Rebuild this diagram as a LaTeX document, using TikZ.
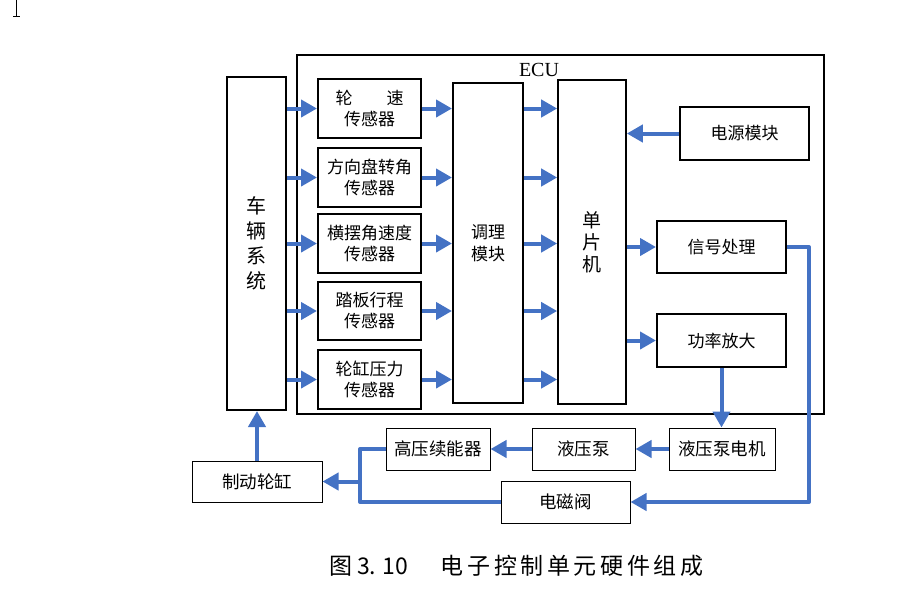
\documentclass[tikz,border=0pt]{standalone}
\usepackage{fontspec}
\setmainfont{Liberation Serif}
\newfontfamily\cjk{Noto Sans CJK SC}
\usetikzlibrary{arrows.meta}
\definecolor{ablue}{RGB}{68,114,196}
\newcommand{\lsp}{\hspace{3.6pt}}
\begin{document}
\begin{tikzpicture}[x=1pt,y=-1pt,
 tbox/.style={draw, line width=2pt, inner sep=0pt, align=center, font=\cjk\fontsize{17}{21}\selectfont},
 thbox/.style={draw, line width=1pt, inner sep=0pt, align=center, font=\cjk\fontsize{17.5}{21}\selectfont},
 arr/.style={draw=ablue, line width=4pt, -{Triangle[length=16pt,width=17pt]}},
 pipe/.style={draw=ablue, line width=4pt, line join=round},
]
\useasboundingbox (0,0) rectangle (900,600);
% cursor mark
\draw[line width=1pt] (16,0) -- (16,16);
\draw[line width=1pt] (13,16) -- (20,16);

% ECU frame
\node[draw, line width=1.2pt, minimum width=527pt, minimum height=359pt, inner sep=0pt] (ecu) at (560.5,234.5) {};
\node[font=\fontsize{20}{24}\selectfont, inner sep=0pt] (ecul) at (539,69.5) {ECU};

% vehicle system
\node[tbox, minimum width=59pt, minimum height=333pt, font=\cjk\fontsize{20}{25}\selectfont] (veh) at (256.5,243.5) {车\\辆\\系\\统};

% sensors
\node[tbox, minimum width=103pt, minimum height=59pt] (s1) at (369.5,108.5) {\makebox[4em]{轮\hfill 速}\\传感器};
\node[tbox, minimum width=103pt, minimum height=59pt] (s2) at (369.5,177.5) {方向盘转角\\传感器};
\node[tbox, minimum width=103pt, minimum height=59pt] (s3) at (369.5,243.5) {横摆角速度\\传感器};
\node[tbox, minimum width=103pt, minimum height=58pt] (s4) at (369.5,311) {踏板行程\\传感器};
\node[tbox, minimum width=103pt, minimum height=59pt] (s5) at (369.5,379.5) {轮缸压力\\传感器};

% conditioning, mcu
\node[tbox, minimum width=70pt, minimum height=320pt, font=\cjk\fontsize{17}{22}\selectfont] (cond) at (488,243) {调理\\模块};
\node[tbox, line width=1.6pt, minimum width=68pt, minimum height=324pt, font=\cjk\fontsize{19}{22}\selectfont] (mcu) at (592,242) {单\\片\\机};

% right modules
\node[tbox, minimum width=129pt, minimum height=53pt] (pwr) at (744.5,133.5) {电源模块};
\node[tbox, minimum width=129pt, minimum height=52pt] (sig) at (721.5,247) {信号处理};
\node[tbox, minimum width=129pt, minimum height=53pt] (amp) at (721.5,340.5) {功率放大};

% bottom row
\node[thbox, minimum width=106pt, minimum height=42pt] (motor) at (722,449) {液压泵电机};
\node[thbox, minimum width=103pt, minimum height=42pt] (pump) at (583.5,449) {液压泵};
\node[thbox, minimum width=104pt, minimum height=42pt] (acc) at (438,449) {高压续能器};
\node[thbox, minimum width=129pt, minimum height=42pt] (valve) at (565.5,502) {电磁阀};
\node[thbox, minimum width=130pt, minimum height=41pt] (brake) at (257,481.5) {制动轮缸};

% arrows vehicle -> sensors -> cond -> mcu
\foreach \s in {s1,s2,s3,s4,s5}{
  \draw[arr] (veh.east |- \s.west) -- (\s.west);
  \draw[arr] (\s.east) -- (cond.west |- \s.east);
  \draw[arr] (cond.east |- \s.east) -- (mcu.west |- \s.east);
}
\draw[arr] (pwr.west) -- (mcu.east |- pwr.west);
\draw[arr] (mcu.east |- sig.west) -- (sig.west);
\draw[arr] (mcu.east |- amp.west) -- (amp.west);

% lower connections
\draw[arr] (amp.south) -- (amp.south |- motor.north);
\draw[arr] (motor.west) -- (pump.east);
\draw[arr] (pump.west) -- (acc.east);
\coordinate (jx) at (360,481.5);
\draw[pipe] (acc.west) -| (jx) |- (valve.west);
\draw[arr] (jx) -- (brake.east);
\coordinate (rx) at (809,400);
\draw[pipe, -{Triangle[length=16pt,width=17pt]}] (sig.east) -| (rx) |- (valve.east);
\draw[arr] (brake.north) -- (brake.north |- veh.south);

% caption
\node[anchor=west, inner sep=0pt, font=\cjk\fontsize{23}{27}\selectfont] (cap) at (329,565.5) {图\hspace{5pt}3.\hspace{6pt}10\hspace{33pt}电\lsp 子\lsp 控\lsp 制\lsp 单\lsp 元\lsp 硬\lsp 件\lsp 组\lsp 成};
\end{tikzpicture}
\end{document}
